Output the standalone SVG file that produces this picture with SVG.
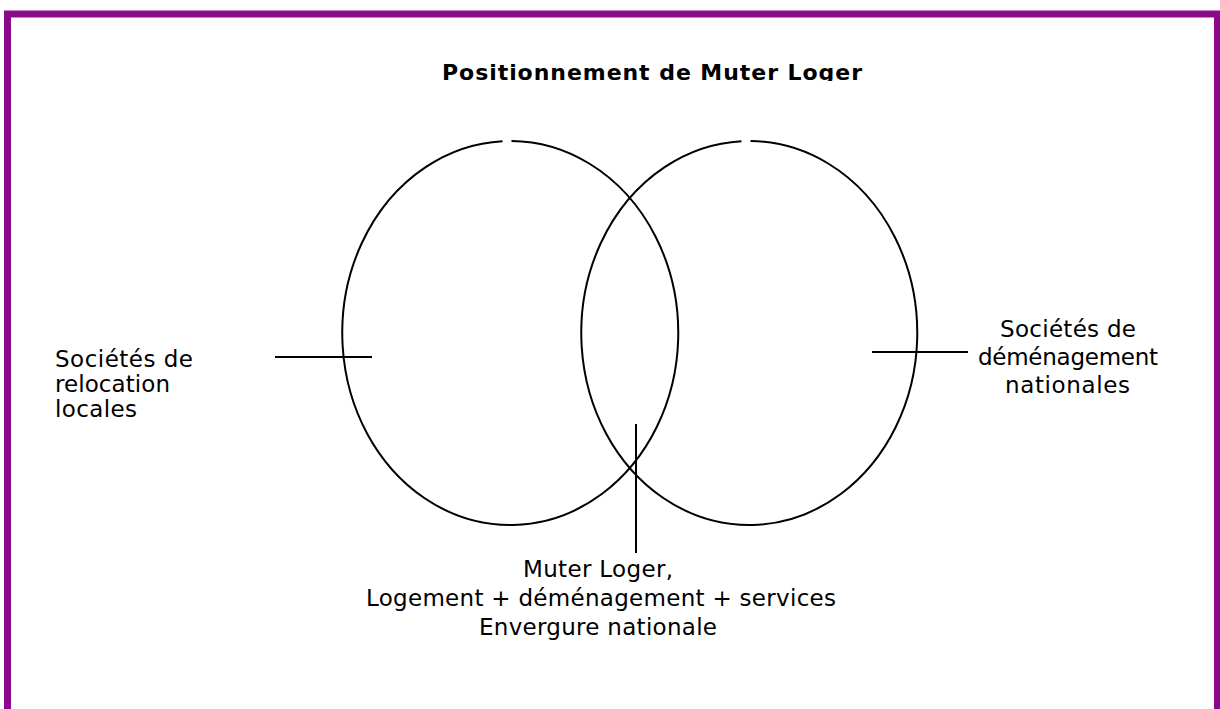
<svg xmlns="http://www.w3.org/2000/svg" width="1220" height="709" viewBox="0 0 1220 709">
<style>
.t{font-family:"DejaVu Sans","Liberation Sans",sans-serif;font-size:23px;fill:#000}
.b{font-weight:bold;font-size:22px}
.ln{stroke:#000;stroke-width:2;fill:none}
</style>
<defs><clipPath id="tc"><rect x="400" y="40" width="500" height="41"/></clipPath></defs>
<rect width="1220" height="709" fill="#fff"/>
<rect x="7.5" y="14" width="1210" height="720" fill="none" stroke="#8b0a8b" stroke-width="7"/>
<g id="title"><text class="t b" x="442" y="80" textLength="420" lengthAdjust="spacing" clip-path="url(#tc)">Positionnement de Muter Loger</text></g>
<g id="circle-left"><path class="ln" d="M511.5,141 A168,192 0 1 1 502.5,141.2"/></g>
<g id="circle-right"><path class="ln" d="M750.5,141 A168,192 0 1 1 741.5,141.2"/></g>
<g id="label-left"><text class="t"><tspan x="55" y="367" textLength="138" lengthAdjust="spacing">Sociétés de</tspan><tspan x="55" y="392" textLength="115" lengthAdjust="spacing">relocation</tspan><tspan x="55" y="417" textLength="82" lengthAdjust="spacing">locales</tspan></text></g>
<g id="label-right"><text class="t"><tspan x="1000" y="337" textLength="136" lengthAdjust="spacing">Sociétés de</tspan><tspan x="978" y="365" textLength="180" lengthAdjust="spacing">déménagement</tspan><tspan x="1005" y="393" textLength="125" lengthAdjust="spacing">nationales</tspan></text></g>
<g id="label-bottom"><text class="t"><tspan x="523" y="577" textLength="150" lengthAdjust="spacing">Muter Loger,</tspan><tspan x="366" y="606" textLength="470" lengthAdjust="spacing">Logement + déménagement + services</tspan><tspan x="479" y="635" textLength="238" lengthAdjust="spacing">Envergure nationale</tspan></text></g>
<g id="connectors">
<line class="ln" x1="275" y1="357" x2="372" y2="357"/>
<line class="ln" x1="872" y1="352" x2="968" y2="352"/>
<line class="ln" x1="636" y1="424" x2="636" y2="553"/>
</g>
</svg>
